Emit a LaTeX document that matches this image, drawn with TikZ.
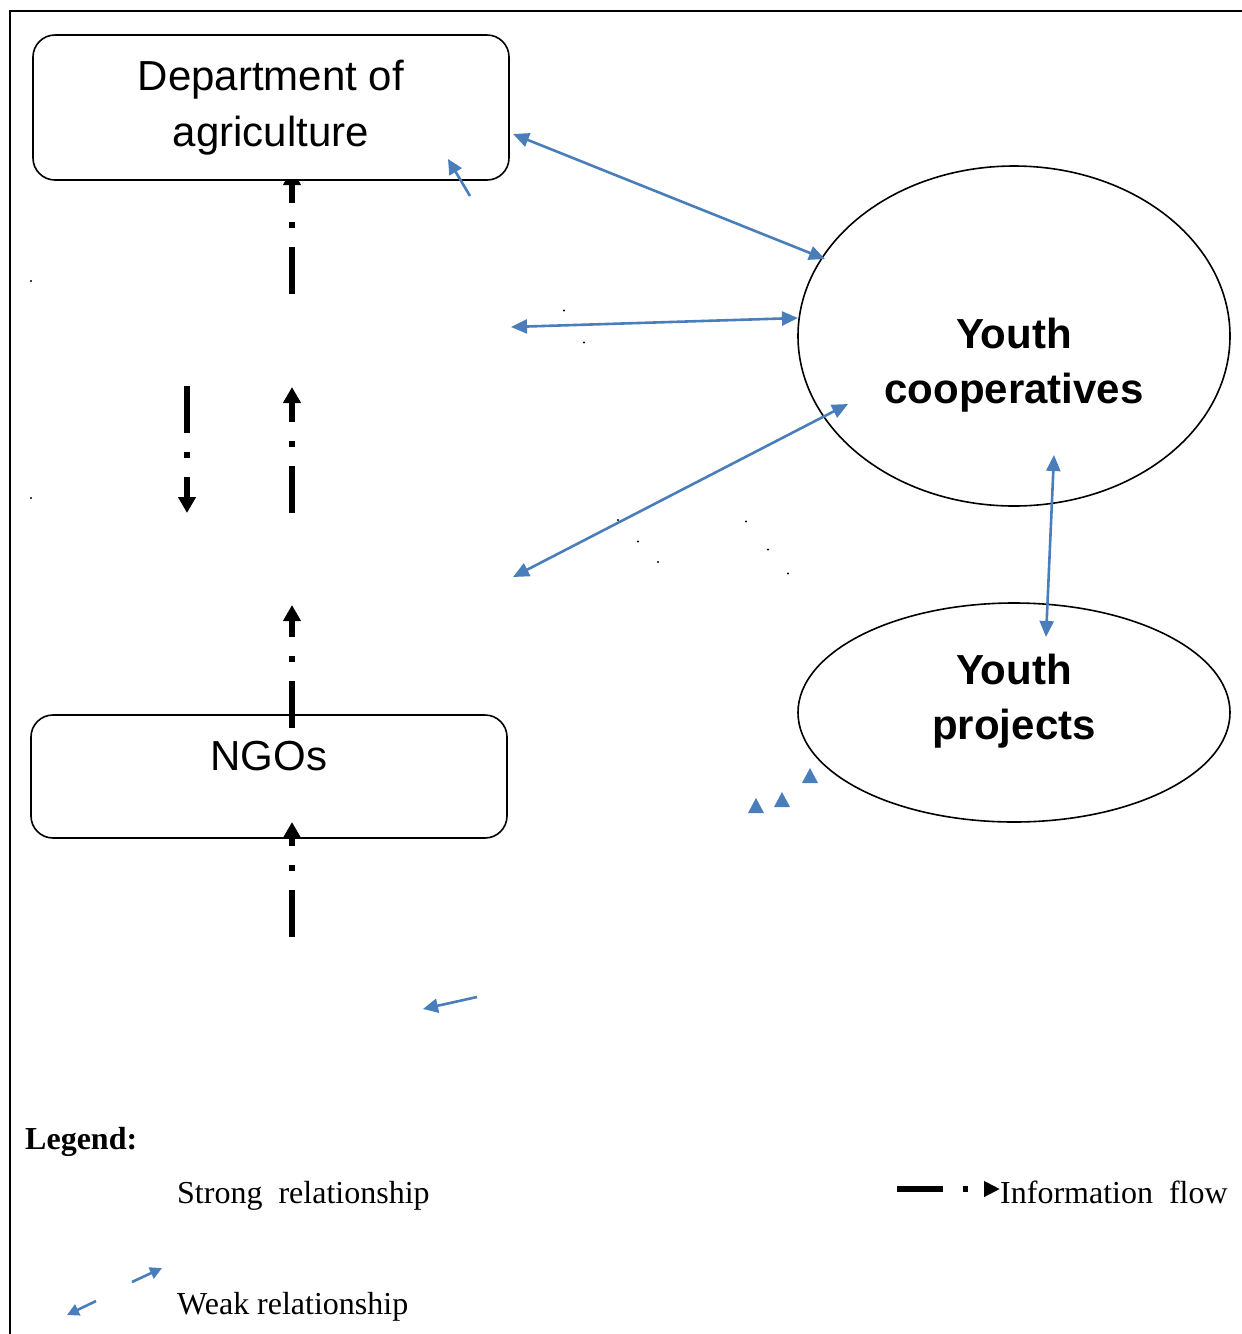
\documentclass[tikz,border=0pt]{standalone}
\usepackage{fontspec}
\setmainfont{Liberation Serif}
\newfontfamily\arialf{Liberation Sans}
\usetikzlibrary{arrows.meta,shapes.geometric}
\definecolor{linkblue}{RGB}{74,126,187}
\begin{document}
\begin{tikzpicture}[x=1pt,y=-1pt,
  boxnode/.style={draw=black, line width=1.6pt, rounded corners=22pt, fill=white, inner sep=0pt,
    font=\arialf\fontsize{42}{56}\selectfont, align=center},
  ellnode/.style={draw=black, line width=1.6pt, ellipse, inner sep=0pt},
  elltext/.style={font=\arialf\bfseries\fontsize{42}{55}\selectfont, align=center, inner sep=0pt},
  infoflow/.style={line width=5.5pt, dash pattern=on 47pt off 19pt on 6pt off 19pt,
    -{Triangle[length=16pt,width=17pt]}},
  link/.style={color=linkblue, line width=2.6pt,
    {Triangle[length=16pt,width=14pt]}-{Triangle[length=16pt,width=14pt]}},
  weaklink/.style={color=linkblue, line width=2.6pt, -{Triangle[length=15pt,width=14pt]}},
  legendarrow/.style={color=linkblue, line width=2.6pt, -{Triangle[length=12pt,width=12pt]}},
  legendtext/.style={font=\fontsize{32}{38}\selectfont, anchor=base west, inner sep=0pt},
  dotmark/.style={fill=black}]
\useasboundingbox (0,0) rectangle (1242,1334);
% frame
\draw[line width=2pt] (9.5,1334) -- (9.5,11) -- (1242,11);

% information flow arrow entering department box (tip hidden by box)
\coordinate (f1a) at (292,294);
\coordinate (f1b) at (292,169);
\draw[infoflow] (f1a) -- (f1b);

% main nodes
\node[boxnode, minimum width=476pt, minimum height=145pt] (dept) at (271,107.5) {Department of\\agriculture};
\node[boxnode, fill=none, minimum width=476pt, minimum height=123pt, text height=30pt, text depth=43pt] (ngo) at (269,776.5) {NGOs};
\node[ellnode, minimum width=432pt, minimum height=340pt] (coop) at (1014,336) {};
\node[elltext] (cooptext) at (1014,364.7) {Youth\\cooperatives};
\node[ellnode, minimum width=432pt, minimum height=219pt] (proj) at (1014,712.5) {};
\node[elltext] (projtext) at (1014,701.6) {Youth\\projects};

% other information flow arrows
\coordinate (f2a) at (292,513); \coordinate (f2b) at (292,387);
\draw[infoflow] (f2a) -- (f2b);
\coordinate (f3a) at (187,386); \coordinate (f3b) at (187,513);
\draw[infoflow] (f3a) -- (f3b);
\coordinate (f4a) at (292,728); \coordinate (f4b) at (292,605);
\draw[infoflow] (f4a) -- (f4b);
\coordinate (f5a) at (292,937); \coordinate (f5b) at (292,822);
\draw[infoflow] (f5a) -- (f5b);

% blue relationship arrows
\coordinate (b1a) at (513,134); \coordinate (b1b) at (825,259);
\draw[link] (b1a) -- (b1b);
\coordinate (b2a) at (511,327); \coordinate (b2b) at (798,318);
\draw[link] (b2a) -- (b2b);
\coordinate (b3a) at (513,577); \coordinate (b3b) at (848,404);
\draw[link] (b3a) -- (b3b);
\coordinate (b4a) at (1054,455); \coordinate (b4b) at (1046,637);
\draw[link] (b4a) -- (b4b);
\coordinate (w1a) at (470,196); \coordinate (w1b) at (448,159);
\draw[weaklink] (w1a) -- (w1b);
\coordinate (w2a) at (477,997); \coordinate (w2b) at (423,1009);
\draw[weaklink] (w2a) -- (w2b);

% loose arrowheads
\fill[linkblue] (748,813) -- (764,813) -- (756,798) -- cycle;
\fill[linkblue] (774,807) -- (790,807) -- (782,792) -- cycle;
\fill[linkblue] (802,783) -- (818,783) -- (810,768) -- cycle;

% stray dots
\foreach \p in {(31,281),(31,498),(564,310.5),(584,342.5),(618,520),(638,541.5),(658,562),(746,521.5),(768,549.5),(788,573.5)}
  \fill[dotmark] \p circle[radius=1.2pt];

% legend
\node[legendtext, font=\bfseries\fontsize{32}{38}\selectfont] (legend) at (25,1149) {Legend:};
\node[legendtext] (strong) at (177,1203) {Strong\ \ relationship};
\node[legendtext] (weak) at (177,1314) {Weak relationship};
\node[legendtext] (info) at (1000,1203) {Information\ \ flow};
\coordinate (la) at (897,1189); \coordinate (lb) at (1000,1189);
\draw[infoflow, dash pattern=on 46pt off 20pt on 5pt off 16pt, -{Triangle[length=16pt,width=15pt]}] (la) -- (lb);
\coordinate (lw1a) at (132,1282); \coordinate (lw1b) at (162,1268);
\draw[legendarrow] (lw1a) -- (lw1b);
\coordinate (lw2a) at (96,1301); \coordinate (lw2b) at (67,1315);
\draw[legendarrow] (lw2a) -- (lw2b);
\end{tikzpicture}
\end{document}
